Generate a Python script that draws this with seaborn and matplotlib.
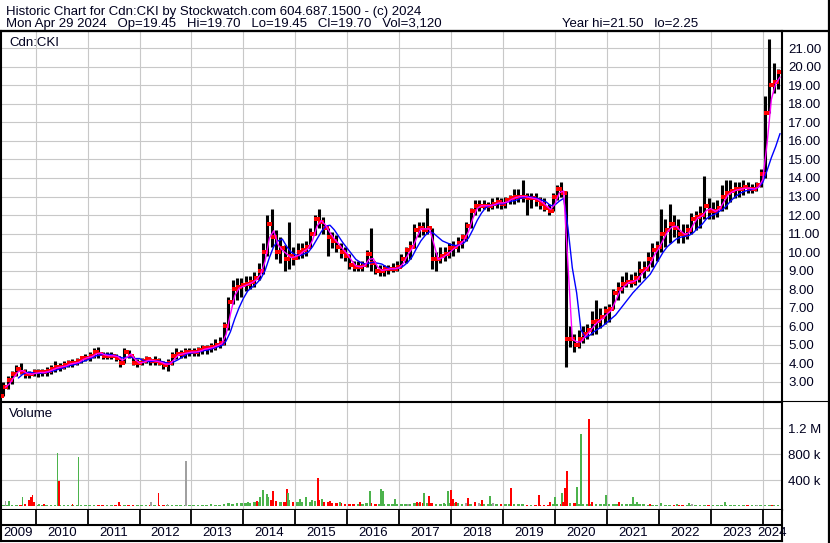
import numpy as np
import pandas as pd
import matplotlib
matplotlib.use("Agg")
import matplotlib.pyplot as plt
from matplotlib.lines import Line2D
import seaborn as sns

# ------------------------------------------------------------------ data
# monthly price bars, May 2009 .. Apr 2024
first_month = "2009-05"
last_month = "2024-04"

price_high = [
    3.0, 3.3, 3.6, 3.9, 4.0, 3.7, 3.6, 3.7,                                  # 2009
    3.7, 3.7, 3.8, 3.9, 4.1, 4.0, 4.1, 4.15, 4.2, 4.3, 4.4, 4.5,             # 2010
    4.6, 4.8, 4.9, 4.6, 4.6, 4.6, 4.5, 4.3, 4.8, 4.7, 4.4, 4.2,              # 2011
    4.3, 4.4, 4.3, 4.4, 4.3, 4.1, 4.2, 4.6, 4.8, 4.7, 4.8, 4.8,              # 2012
    4.8, 4.9, 5.0, 5.0, 5.1, 5.3, 5.4, 6.2, 7.6, 8.5, 8.6, 8.6,              # 2013
    8.7, 8.7, 8.9, 9.4, 10.5, 12.0, 12.3, 11.2, 10.8, 10.4, 11.6, 10.3,      # 2014
    10.5, 10.5, 10.6, 11.3, 12.0, 12.3, 11.9, 11.3, 11.1, 10.9, 10.5, 10.3,  # 2015
    9.9, 9.5, 9.5, 9.5, 10.1, 11.3, 9.4, 9.3, 9.3, 9.3, 9.4, 9.5,            # 2016
    9.9, 10.3, 10.6, 11.5, 11.6, 11.6, 12.4, 11.3, 10.0, 10.3, 10.3, 10.5,   # 2017
    10.6, 10.8, 11.0, 11.6, 12.4, 12.8, 12.8, 12.8, 12.7, 12.9, 13.0, 12.9,  # 2018
    13.0, 13.1, 13.4, 13.4, 13.9, 13.2, 13.2, 13.2, 13.0, 12.9, 12.6, 13.2,  # 2019
    13.6, 13.8, 13.3, 6.0, 5.6, 5.8, 6.0, 6.1, 6.8, 7.4, 7.0, 7.1,           # 2020
    7.2, 8.0, 8.4, 8.7, 8.9, 8.8, 8.9, 9.5, 9.5, 10.0, 10.5, 10.6,           # 2021
    12.3, 11.8, 12.6, 12.0, 11.8, 11.5, 11.5, 12.1, 12.2, 12.5, 14.1, 12.9,  # 2022
    12.7, 12.8, 13.6, 13.9, 13.9, 13.8, 13.8, 13.9, 13.8, 13.7, 13.8, 14.5,  # 2023
    18.4, 21.5, 20.2, 19.9,                                                  # 2024
]
price_low = [
    2.25, 2.6, 2.9, 3.3, 3.4, 3.2, 3.2, 3.3,
    3.25, 3.3, 3.3, 3.4, 3.5, 3.6, 3.7, 3.8, 3.8, 3.9, 4.0, 4.1,
    4.1, 4.3, 4.3, 4.2, 4.2, 4.2, 4.1, 3.8, 4.0, 4.3, 3.9, 3.8,
    3.9, 4.0, 3.9, 3.9, 3.9, 3.7, 3.6, 3.9, 4.2, 4.3, 4.3, 4.4,
    4.4, 4.4, 4.5, 4.5, 4.6, 4.7, 4.8, 5.0, 5.8, 7.2, 7.4, 7.6,
    7.9, 8.0, 8.1, 8.5, 8.8, 9.8, 10.3, 9.6, 9.4, 9.0, 9.1, 9.3,
    9.6, 9.7, 9.8, 10.2, 10.9, 11.3, 11.0, 9.8, 10.2, 10.0, 9.7, 9.5,
    9.1, 9.0, 9.0, 9.0, 9.2, 9.0, 8.8, 8.7, 8.7, 8.8, 8.9, 9.0,
    9.2, 9.4, 9.6, 10.2, 10.8, 10.9, 11.0, 9.1, 9.0, 9.4, 9.5, 9.7,
    9.8, 10.0, 10.2, 10.6, 11.3, 12.0, 12.2, 12.3, 12.2, 12.3, 12.4, 12.3,
    12.4, 12.6, 12.6, 12.7, 12.7, 12.0, 12.4, 12.5, 12.3, 12.2, 12.0, 12.2,
    12.8, 13.0, 3.8, 4.9, 4.6, 4.8, 5.1, 5.3, 5.5, 5.6, 5.9, 6.1,
    6.2, 6.9, 7.4, 7.8, 8.1, 8.1, 8.2, 8.4, 8.6, 9.0, 9.2, 9.5,
    10.0, 10.3, 10.5, 10.8, 10.5, 10.5, 10.7, 11.0, 11.2, 11.3, 11.8, 11.8,
    11.8, 11.9, 12.2, 12.3, 12.7, 12.9, 13.0, 13.1, 13.2, 13.2, 13.3, 13.5,
    14.0, 17.5, 18.6, 18.8,
]
price_close = [
    2.7, 3.1, 3.4, 3.7, 3.5, 3.4, 3.4, 3.5,
    3.5, 3.5, 3.6, 3.7, 3.8, 3.8, 3.9, 4.0, 4.0, 4.1, 4.3, 4.3,
    4.4, 4.6, 4.5, 4.4, 4.4, 4.4, 4.3, 4.0, 4.6, 4.4, 4.0, 4.0,
    4.1, 4.2, 4.1, 4.1, 4.0, 3.9, 4.0, 4.4, 4.5, 4.5, 4.6, 4.6,
    4.6, 4.7, 4.8, 4.8, 4.9, 5.0, 5.1, 6.0, 7.3, 8.0, 8.1, 8.2,
    8.3, 8.4, 8.6, 9.0, 10.0, 11.5, 10.8, 10.0, 10.2, 9.6, 9.8, 9.7,
    10.0, 10.1, 10.3, 11.0, 11.8, 11.6, 11.3, 10.8, 10.6, 10.3, 10.0, 9.8,
    9.3, 9.2, 9.2, 9.3, 9.9, 9.4, 9.0, 9.0, 9.1, 9.1, 9.1, 9.2,
    9.6, 10.1, 10.3, 11.2, 11.3, 11.2, 11.3, 9.6, 9.6, 9.8, 9.9, 10.2,
    10.3, 10.5, 10.8, 11.4, 12.2, 12.5, 12.5, 12.5, 12.5, 12.6, 12.7, 12.6,
    12.8, 12.9, 13.0, 13.0, 13.0, 12.9, 12.9, 12.8, 12.6, 12.4, 12.2, 13.0,
    13.4, 13.2, 5.3, 5.3, 5.0, 5.3, 5.6, 5.8, 6.2, 6.3, 6.5, 6.8,
    6.9, 7.8, 8.0, 8.3, 8.4, 8.4, 8.6, 9.0, 9.1, 9.6, 10.1, 10.3,
    11.0, 11.2, 11.5, 11.3, 11.0, 10.9, 11.2, 11.8, 11.9, 12.0, 12.5, 12.2,
    12.2, 12.4, 13.0, 13.2, 13.3, 13.4, 13.4, 13.5, 13.4, 13.4, 13.6, 14.2,
    17.5, 19.0, 19.2, 19.7,
]

# slow (blue) moving average, month-end values
ma_slow_values = [
    np.nan, np.nan, np.nan, 3.2, 3.4, 3.5, 3.5, 3.45,
    3.45, 3.48, 3.52, 3.58, 3.65, 3.72, 3.8, 3.88, 3.92, 4.0, 4.1, 4.18,
    4.28, 4.4, 4.45, 4.48, 4.48, 4.43, 4.38, 4.28, 4.32, 4.32, 4.25, 4.25,
    4.12, 4.08, 4.1, 4.12, 4.1, 4.03, 4.0, 4.08, 4.2, 4.35, 4.5, 4.55,
    4.58, 4.62, 4.68, 4.72, 4.8, 4.88, 4.95, 5.2, 5.7, 6.4, 7.0, 7.5,
    7.9, 8.1, 8.3, 8.55, 9.0, 9.7, 10.3, 10.6, 10.7, 10.3, 10.0, 9.85,
    9.8, 9.9, 10.0, 10.3, 10.7, 11.1, 11.4, 11.45, 11.2, 10.85, 10.5, 10.2,
    9.9, 9.6, 9.45, 9.35, 9.4, 9.45, 9.4, 9.35, 9.2, 9.1, 9.1, 9.15,
    9.25, 9.45, 9.75, 10.2, 10.6, 10.9, 11.1, 11.0, 10.8, 10.6, 10.5, 10.4,
    10.35, 10.4, 10.5, 10.75, 11.2, 11.7, 12.1, 12.4, 12.5, 12.55, 12.6, 12.6,
    12.7, 12.75, 12.8, 12.9, 12.95, 13.0, 12.95, 12.9, 12.8, 12.7, 12.5, 12.55,
    12.75, 12.9, 11.3, 9.15, 7.8, 5.8, 5.4, 5.5, 5.7, 5.85, 6.0, 6.2,
    6.4, 6.6, 6.9, 7.2, 7.5, 7.8, 8.05, 8.3, 8.55, 8.8, 9.2, 9.6,
    10.0, 10.3, 10.5, 10.7, 10.8, 10.85, 10.9, 11.05, 11.3, 11.5, 11.8, 11.95,
    12.05, 12.2, 12.35, 12.6, 12.85, 13.05, 13.2, 13.3, 13.35, 13.4, 13.5, 13.75,
    14.4, 15.1, 15.7, 16.4,
]

# monthly background volume (thousands of shares)
volume_base = [
    20, 25, 20, 20, 25, 30, 20, 25,
    20, 15, 20, 15, 20, 15, 15, 20, 15, 15, 20, 15,
    15, 15, 15, 15, 15, 15, 15, 15, 15, 15, 15, 15,
    15, 15, 15, 15, 15, 15, 15, 15, 15, 15, 15, 15,
    15, 15, 15, 20, 20, 25, 25, 35, 45, 40, 45, 50,
    50, 55, 60, 70, 80, 100, 90, 80, 70, 70, 90, 70,
    60, 70, 60, 70, 80, 90, 60, 60, 50, 50, 45, 40,
    40, 40, 35, 40, 45, 50, 40, 40, 35, 35, 35, 40,
    40, 40, 40, 45, 45, 50, 50, 55, 40, 40, 40, 45,
    45, 45, 40, 40, 40, 35, 35, 35, 35, 35, 30, 30,
    30, 30, 30, 30, 30, 25, 25, 25, 25, 25, 25, 30,
    35, 40, 60, 50, 45, 40, 40, 35, 35, 35, 35, 35,
    35, 40, 35, 30, 30, 30, 30, 30, 30, 25, 25, 25,
    25, 25, 25, 20, 20, 20, 20, 20, 20, 20, 20, 20,
    20, 15, 15, 15, 15, 15, 15, 15, 15, 15, 15, 15,
    15, 20, 20, 15,
]

# notable single-day volume bars: date (decimal year), volume (k), colour code
spike_date = [
    2009.418, 2009.486, 2009.746, 2009.871, 2009.909, 2009.938, 2009.967,
    2010.064, 2010.160, 2010.420, 2010.449, 2010.709, 2010.824,
    2011.604, 2012.220, 2012.365, 2012.538, 2012.894, 2013.376,
    2014.088, 2014.262, 2014.319, 2014.377, 2014.454, 2014.473, 2014.570,
    2014.839, 2014.858,
    2015.090, 2015.205, 2015.321, 2015.436, 2015.513, 2015.667, 2015.860,
    2016.245, 2016.437, 2016.649, 2016.687, 2016.918,
    2017.169, 2017.342, 2017.400, 2017.477, 2017.573, 2017.862, 2017.939,
    2017.997, 2018.036, 2018.094, 2018.286, 2018.325, 2018.460, 2018.537,
    2018.594, 2018.748, 2018.806,
    2019.152, 2019.692, 2019.904,
    2020.000, 2020.135, 2020.154, 2020.192, 2020.231, 2020.385, 2020.423,
    2020.500, 2020.654, 2020.712, 2020.789,
    2020.981, 2021.154, 2021.231, 2021.501, 2021.578, 2021.828,
    2022.040, 2022.348, 2022.579, 2022.637,
    2023.272, 2023.888, 2024.177,
]
spike_volume = [
    80, 75, 150, 100, 140, 170, 60,
    30, 30, 825, 390, 40, 760,
    70, 70, 200, 30, 700, 30,
    60, 80, 150, 245, 185, 150, 235,
    260, 200,
    120, 150, 100, 440, 110, 80, 70,
    60, 240, 260, 230, 108,
    30, 60, 60, 200, 160, 50, 230,
    250, 108, 60, 50, 130, 60, 50,
    90, 160, 50,
    285, 175, 60,
    145, 200, 70, 275, 545, 40, 290,
    1110, 1340, 60, 40,
    170, 40, 70, 145, 70, 40,
    50, 40, 55, 30,
    70, 25, 25,
]
spike_color = [
    "k", "g", "g", "r", "r", "r", "r",
    "g", "r", "g", "r", "r", "g",
    "r", "k", "r", "k", "k", "g",
    "g", "r", "g", "g", "g", "g", "r",
    "r", "g",
    "g", "g", "g", "r", "g", "r", "g",
    "r", "g", "g", "g", "g",
    "k", "r", "r", "g", "r", "g", "g",
    "r", "r", "r", "k", "r", "r", "k",
    "r", "g", "k",
    "r", "r", "r",
    "g", "g", "r", "r", "r", "r", "g",
    "g", "r", "r", "g",
    "g", "g", "r", "g", "g", "r",
    "g", "g", "g", "k",
    "g", "k", "r",
]

year_ticks = list(range(2010, 2025))
year_labels = [str(y) for y in range(2009, 2025)]
price_ticks = list(range(3, 22))
volume_ticks = [400, 800, 1200]
volume_tick_labels = ["400 k", "800 k", "1.2 M"]

title_line1 = "Historic Chart for Cdn:CKI by Stockwatch.com 604.687.1500 - (c) 2024"
title_line2a = ("Mon Apr 29 2024   Op=19.45   Hi=19.70   Lo=19.45   Cl=19.70   "
                "Vol=3,120")
title_line2b = "Year hi=21.50   lo=2.25"

# ------------------------------------------------------------------ setup
W, H = 830, 543
sns.set_theme(style="white")
plt.rcParams["font.family"] = ["Liberation Sans", "DejaVu Sans"]
TXT = "#00001e"
GRID = "#c8c8c8"
GREEN = "#4cb34c"
RED = "#ff0000"
GRAY = "#a0a0a0"
cmap = {"g": GREEN, "r": RED, "k": GRAY}

months = pd.period_range(first_month, last_month, freq="M")
df = pd.DataFrame({
    "t": months.year + (months.month - 0.5) / 12.0,
    "t_end": months.year + months.month / 12.0,
    "hi": price_high, "lo": price_low, "cl": price_close,
    "vol": volume_base, "ma_slow": ma_slow_values,
})
df["op"] = df["cl"].shift(1).fillna(df["lo"])
df["ma_fast"] = df["cl"].rolling(2, min_periods=1).mean()
df["up"] = df["cl"].diff().fillna(0) >= 0

spikes = pd.DataFrame({"t": spike_date, "v": spike_volume,
                       "c": [cmap[c] for c in spike_color]})

# pixel -> data mappings
def x2t(x):
    return 2010 + (x - 35.7) / 51.93

def y2p(y):
    return 3 + (381.7 - y) / 18.52

def y2v(y):
    return (506.3 - y) * 400 / 26.0

XL = (x2t(1.0), x2t(781.5))

fig = plt.figure(figsize=(W / 100, H / 100), dpi=100)
fig.patch.set_facecolor("white")

def px_axes(l, t, r, b):
    return fig.add_axes([l / W, 1 - b / H, (r - l) / W, (b - t) / H])

ax_p = px_axes(1.0, 31.0, 781.5, 400.5)
ax_v = px_axes(1.0, 402.0, 781.5, 509.5)
ax_d = px_axes(1.0, 509.5, 781.5, 541.0)

for ax in (ax_p, ax_v, ax_d):
    ax.set_xlim(*XL)
    ax.set_facecolor("white")
    for s in ax.spines.values():
        s.set_color("black")
        s.set_linewidth(1.5)

# ------------------------------------------------------------------ price panel
ax_p.set_ylim(y2p(400.5), y2p(31.0))
ax_p.set_axisbelow(True)
ax_p.set_xticks(year_ticks)
ax_p.set_xticklabels([])
ax_p.set_yticks(price_ticks)
ax_p.set_yticklabels([f"{v:.2f}" for v in price_ticks])
ax_p.yaxis.tick_right()
ax_p.tick_params(axis="both", length=0)
ax_p.tick_params(axis="y", pad=5, labelsize=9.5, labelcolor=TXT)
ax_p.grid(True, color=GRID, lw=0.8)
ax_p.spines["bottom"].set_linewidth(0.8)

ax_p.vlines(df["t"], df["lo"], df["hi"], color="black", lw=2.2, zorder=2)
ticks = pd.concat([
    pd.DataFrame({"t": df["t"] - 0.025, "p": df["op"]}),
    pd.DataFrame({"t": df["t"] + 0.025, "p": df["cl"]}),
])
sns.scatterplot(data=ticks, x="t", y="p", ax=ax_p, color=RED, marker="s",
                s=5, linewidth=0, zorder=3, legend=False)
sns.lineplot(data=df.dropna(subset=["ma_slow"]), x="t_end", y="ma_slow",
             ax=ax_p, color="#0000ff", lw=1.0, zorder=4, legend=False)
sns.lineplot(data=df, x="t_end", y="ma_fast", ax=ax_p, color="#ff00ff",
             lw=1.0, zorder=5, legend=False)
ax_p.set_xlabel("")
ax_p.set_ylabel("")
ax_p.set_xlim(*XL)

# ------------------------------------------------------------------ volume panel
ax_v.set_ylim(y2v(509.5), y2v(402.0))
ax_v.set_axisbelow(True)
ax_v.set_xticks(year_ticks)
ax_v.set_xticklabels([])
ax_v.set_yticks(volume_ticks)
ax_v.set_yticklabels(volume_tick_labels)
ax_v.yaxis.tick_right()
ax_v.tick_params(axis="both", length=0)
ax_v.tick_params(axis="y", pad=5, labelsize=9.5, labelcolor=TXT)
ax_v.grid(True, color=GRID, lw=0.8)
ax_v.spines["top"].set_linewidth(0.8)
ax_v.bar(df["t"], df["vol"], width=0.05,
         color=[GREEN if u else RED for u in df["up"]], lw=0, zorder=2)
ax_v.bar(spikes["t"], spikes["v"], width=0.032, color=spikes["c"], lw=0,
         zorder=3)
ax_v.set_xlim(*XL)

# ------------------------------------------------------------------ date strip
ax_d.set_ylim(0, 1)
ax_d.set_xticks([])
ax_d.set_yticks([])
ax_d.spines["top"].set_visible(False)
ax_d.axhline(0.5, color="black", lw=1.5)
ax_d.vlines(year_ticks, 0.5, 1.0, color="black", lw=1.3)
edges = [XL[0]] + year_ticks + [XL[1]]
for lab, a, b in zip(year_labels, edges[:-1], edges[1:]):
    ax_d.text((a + b) / 2, 0.25, lab, ha="center", va="center",
              fontsize=9.5, color=TXT, clip_on=False)

# ------------------------------------------------------------------ texts & frame
fig.text(6 / W, 1 - 14.5 / H, title_line1, fontsize=9.5, color=TXT,
         va="baseline", ha="left")
fig.text(6 / W, 1 - 27 / H, title_line2a, fontsize=9.5, color=TXT,
         va="baseline", ha="left")
fig.text(698 / W, 1 - 27 / H, title_line2b, fontsize=9.5, color=TXT,
         va="baseline", ha="right")
fig.text(9 / W, 1 - 46 / H, "Cdn:CKI", fontsize=9.5, color=TXT,
         va="baseline", ha="left")
fig.text(9 / W, 1 - 417 / H, "Volume", fontsize=9.5, color=TXT,
         va="baseline", ha="left")

def fig_line(x0, y0, x1, y1, lw):
    fig.add_artist(Line2D([x0 / W, x1 / W], [1 - y0 / H, 1 - y1 / H],
                          color="black", lw=lw, transform=fig.transFigure))

fig_line(0, 31, W, 31, 1.6)
fig_line(829, 0, 829, H, 1.6)
fig_line(781.5, 400.8, 829, 400.8, 0.8)

fig.savefig("out.png", dpi=100, facecolor="white")
